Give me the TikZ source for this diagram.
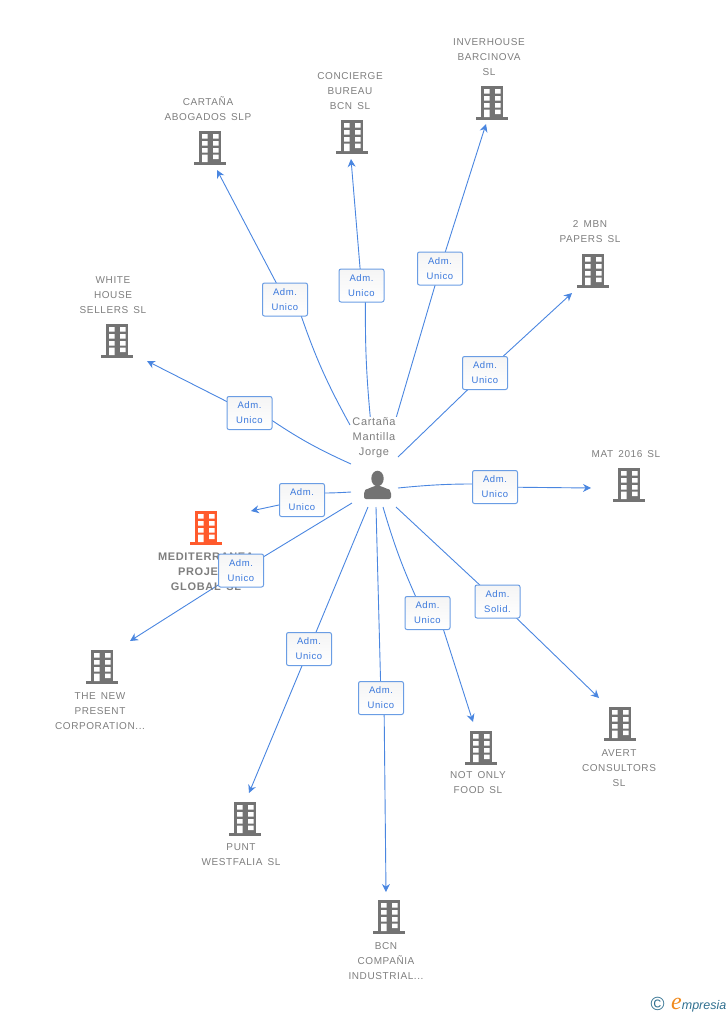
\documentclass[tikz,border=0pt]{standalone}
\usepackage{fontspec}
\setmainfont[LetterSpace=6,WordSpace=1.5]{Liberation Sans}
\newfontfamily\logoserif{Liberation Serif}
\newfontfamily\logosans{Liberation Sans}
\usetikzlibrary{arrows.meta,backgrounds}
\definecolor{linkblue}{HTML}{4A86E0}
\definecolor{boxblue}{HTML}{6A9DE4}
\definecolor{txtblue}{HTML}{3A78DC}
\definecolor{labelgray}{HTML}{7E7E7E}
\definecolor{bldgray}{HTML}{737373}
\definecolor{bldred}{HTML}{FF5A2C}
\definecolor{logoteal}{HTML}{2F6F8F}
\definecolor{logoorange}{HTML}{F08A1E}
\tikzset{
  x=1pt,y=-1pt,
  rolebox/.style={draw=boxblue,line width=1pt,rounded corners=2pt,top color=black!4,bottom color=white,
    minimum width=45pt,minimum height=33pt,inner sep=0pt,align=center,text=txtblue,
    font=\fontsize{9.5}{15}\selectfont},
  link/.style={draw=linkblue,line width=0.9pt},
  tiplink/.style={link,-{Stealth[length=8pt,width=8pt]}},
  corp/.style={align=center,text=labelgray,inner sep=0pt,font=\fontsize{10}{15}\selectfont},
  corpbold/.style={corp,font=\fontsize{11}{15}\selectfont\bfseries},
  hublabel/.style={corp,fill=white,font=\fontsize{11}{15}\selectfont,inner sep=1pt},
}
\newcommand{\bldicon}[3]{%
  \begin{scope}[shift={(#1,#2)}]
    \fill[#3] (-11,-34) rectangle (11,-3);
    \fill[#3] (-16,-3) rectangle (16,0);
    \fill[white] (-8,-31) rectangle (-2.5,-26.5) (3,-31) rectangle (8.5,-26.5);
    \fill[white] (-8,-24) rectangle (-2.5,-19.5) (3,-24) rectangle (8.5,-19.5);
    \fill[white] (-8,-17) rectangle (-2.5,-12.5) (3,-17) rectangle (8.5,-12.5);
    \fill[white] (-8,-10.5) rectangle (-2.5,-3) (3,-10.5) rectangle (8.5,-6);
  \end{scope}}
\begin{document}
\begin{tikzpicture}
\useasboundingbox (0,0) rectangle (728,1015);

% buildings
\bldicon{492}{120}{bldgray}
\bldicon{352}{154}{bldgray}
\bldicon{210}{165}{bldgray}
\bldicon{593}{288}{bldgray}
\bldicon{117}{358}{bldgray}
\bldicon{629}{502}{bldgray}
\bldicon{206}{545}{bldred}
\bldicon{102}{684}{bldgray}
\bldicon{620}{741}{bldgray}
\bldicon{481}{765}{bldgray}
\bldicon{245}{836}{bldgray}
\bldicon{389}{934}{bldgray}

% company labels
\node[corp] (inverhouse) at (489,57) {INVERHOUSE\\BARCINOVA\\SL};
\node[corp] (concierge) at (350,91) {CONCIERGE\\BUREAU\\BCN  SL};
\node[corp] (cartana) at (208,109) {CARTAÑA\\ABOGADOS  SLP};
\node[corp] (mbn) at (590,232) {2 MBN\\PAPERS SL};
\node[corp] (white) at (113,295) {WHITE\\HOUSE\\SELLERS SL};
\node[corp] (mat) at (626,454) {MAT 2016  SL};
\node[corpbold] (medit) at (206,572) {MEDITERRANEA\\PROJECT\\GLOBAL  SL};
\node[corp] (newpresent) at (100,711) {THE NEW\\PRESENT\\CORPORATION...};
\node[corp] (avert) at (619,768) {AVERT\\CONSULTORS\\SL};
\node[corp] (notonly) at (478,783) {NOT ONLY\\FOOD  SL};
\node[corp] (punt) at (241,855) {PUNT\\WESTFALIA SL};
\node[corp] (bcn) at (386,961) {BCN\\COMPAÑIA\\INDUSTRIAL...};

% hub
\node[hublabel] (hublabel) at (374,438) {Cartaña\\Mantilla\\Jorge};
\node[minimum size=28pt,inner sep=0pt] (hub) at (377.5,485) {};
\fill[bldgray] (377.5,478.5) ellipse (6.2 and 7.8);
\fill[bldgray,rounded corners=2pt] (364,499) -- (364,491.5) .. controls (366,489) and (370,488.5) .. (373,486) -- (382,486) .. controls (385,488.5) and (389,489) .. (391,491.5) -- (391,499) -- cycle;

% role boxes
\node[rolebox] (bwhite) at (249.5,413) {Adm.\\Unico};
\node[rolebox] (bcart) at (285,299.5) {Adm.\\Unico};
\node[rolebox] (bconc) at (361.5,285.5) {Adm.\\Unico};
\node[rolebox] (binver) at (440,268.5) {Adm.\\Unico};
\node[rolebox] (bmbn) at (485,373) {Adm.\\Unico};
\node[rolebox] (bmat) at (495,487) {Adm.\\Unico};
\node[rolebox] (bavert) at (497.5,601.5) {Adm.\\Solid.};
\node[rolebox] (bnot) at (427.5,613) {Adm.\\Unico};
\node[rolebox] (bbcn) at (381,698) {Adm.\\Unico};
\node[rolebox] (bpunt) at (309,649) {Adm.\\Unico};
\node[rolebox] (bnew) at (241,570.5) {Adm.\\Unico};
\node[rolebox] (bmed) at (302,500) {Adm.\\Unico};

% connector ends
\coordinate (swhite) at (351,464);
\coordinate (scart) at (350,425);
\coordinate (sconc) at (371,425);
\coordinate (sinver) at (394,425);
\coordinate (smbn) at (398,457);
\coordinate (smat) at (398,488);
\coordinate (savert) at (396,507);
\coordinate (snot) at (383,507);
\coordinate (sbcn) at (376,507);
\coordinate (spunt) at (368,507);
\coordinate (snew) at (352,503);
\coordinate (smed) at (351,492);
\coordinate (twhite) at (147,361);
\coordinate (tcart) at (217,170);
\coordinate (tconc) at (351,159);
\coordinate (tinver) at (486,124);
\coordinate (tmbn) at (572,293);
\coordinate (tmat) at (591,488);
\coordinate (tavert) at (599,698);
\coordinate (tnot) at (473,722);
\coordinate (tbcn) at (386,892);
\coordinate (tpunt) at (249,793);
\coordinate (tnew) at (130,641);
\coordinate (tmed) at (251,511);

\begin{scope}[on background layer]
\path[link] (swhite) to[bend left=5] ([shift={(16,3)}]bwhite.center);
\path[link] (scart) to[bend left=5] ([shift={(14,10)}]bcart.center);
\path[link] (sconc) to[bend left=3] ([shift={(4,10)}]bconc.center);
\path[link] (sinver) to (binver.center);
\path[link] (smbn) to (bmbn.center);
\path[link] (smat) to[bend left=3] ([shift={(-10,-3)}]bmat.center);
\path[link] (savert) to (bavert.center);
\path[link] (snot) to[bend right=4] ([shift={(-8,-8)}]bnot.center);
\path[link] (sbcn) to (bbcn.center);
\path[link] (spunt) to (bpunt.center);
\path[link] (snew) to (bnew.center);
\path[link] (smed) to[bend left=2] ([shift={(10,-7)}]bmed.center);
\path[tiplink] ([shift={(-10,-5)}]bwhite.center) -- (twhite);
\path[tiplink] (bcart.center) -- (tcart);
\path[tiplink] (bconc.center) -- (tconc);
\path[tiplink] (binver.center) -- (tinver);
\path[tiplink] (bmbn.center) -- (tmbn);
\path[tiplink] (bmat.center) -- (tmat);
\path[tiplink] ([shift={(6,4)}]bavert.center) -- (tavert);
\path[tiplink] ([shift={(10,-2)}]bnot.center) -- (tnot);
\path[tiplink] ([shift={(3,0)}]bbcn.center) -- (tbcn);
\path[tiplink] (bpunt.center) -- (tpunt);
\path[tiplink] (bnew.center) -- (tnew);
\path[tiplink] (bmed.center) -- (tmed);
\end{scope}

% logo
\node[inner sep=0pt,text=logoteal,font=\logosans\fontsize{19}{19}\selectfont] (copy) at (657.5,1004) {©};
\node[inner sep=0pt,anchor=base west,font=\logosans\itshape\fontsize{12.5}{12.5}\selectfont,text=logoteal] (logo) at (671,1009) {{\color{logoorange}\logoserif\itshape\fontsize{24}{24}\selectfont e}mpresia};
\end{tikzpicture}
\end{document}
